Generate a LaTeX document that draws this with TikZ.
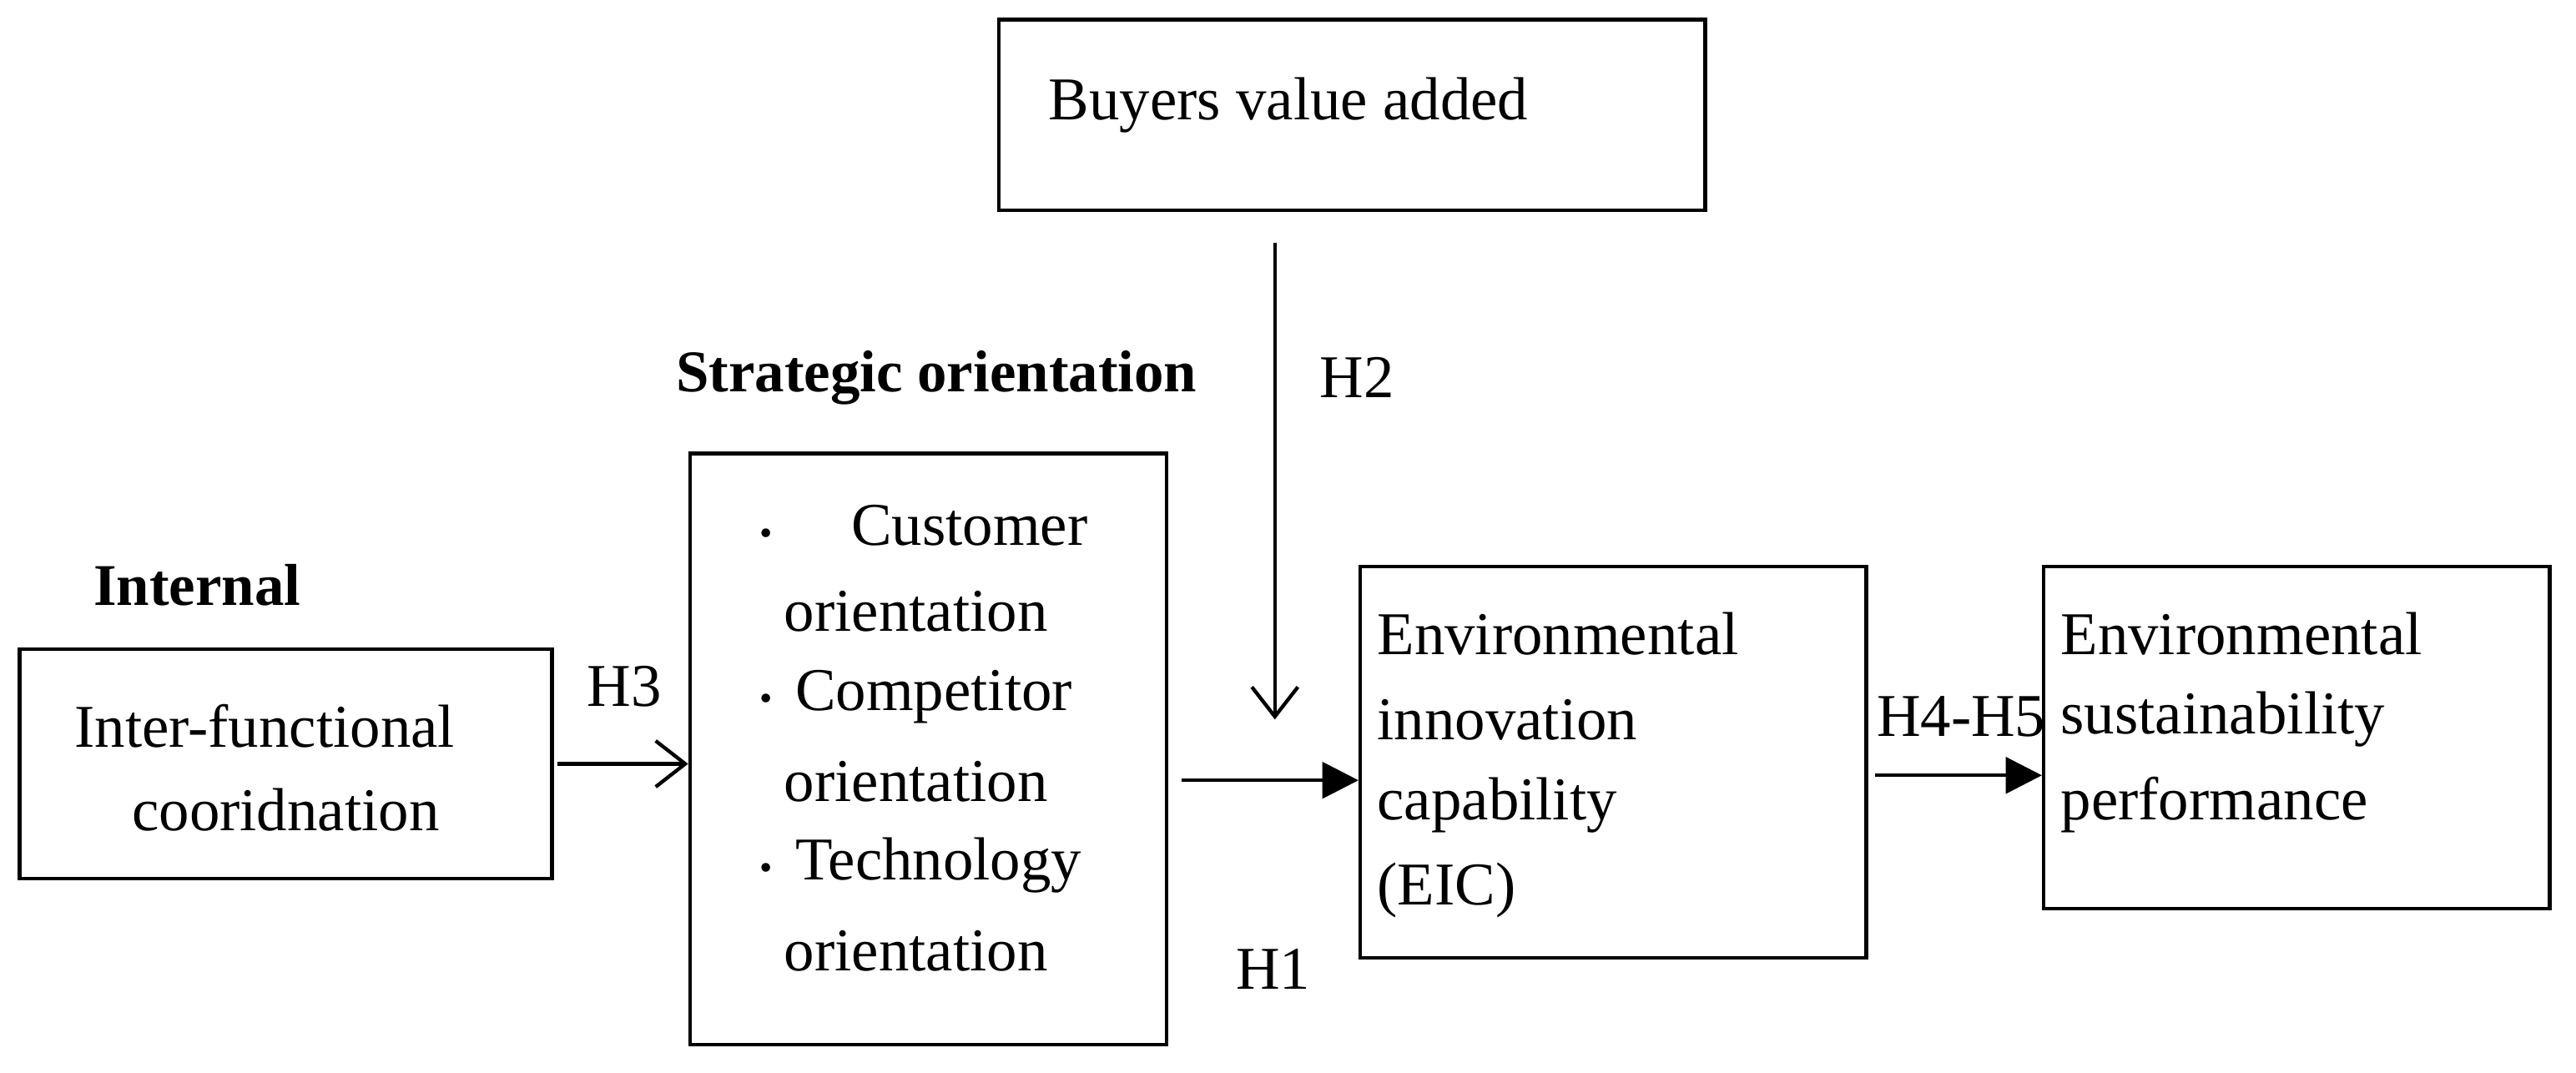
\documentclass[tikz,border=0pt]{standalone}
\usepackage{fontspec}
\setmainfont{Liberation Serif}
\usetikzlibrary{arrows.meta}
\begin{document}
\begin{tikzpicture}[x=0.5pt,y=-0.5pt,
  box/.style={draw,line width=1.1pt,inner sep=0pt},
  txt/.style={font=\fontsize{18.5}{22}\selectfont,inner sep=0pt,anchor=west},
  bold/.style={font=\fontsize{18}{22}\selectfont\bfseries,inner sep=0pt},
  open/.style={line width=1.1pt,-{Straight Barb[length=9pt,width=14pt]}},
  solid/.style={line width=1.1pt,-{Triangle[length=11pt,width=11pt]}}]
\useasboundingbox (0,0) rectangle (1568,653);
\node[box,minimum width=215pt,minimum height=58pt] (bva) at (823,70) {};
\node[txt] at (638,64) {Buyers value added};
\node[box,minimum width=145pt,minimum height=180pt] (so) at (565,456) {};
\node[box,minimum width=162pt,minimum height=70pt] (ifc) at (174,465) {};
\node[box,minimum width=154pt,minimum height=119pt] (eic) at (982,464) {};
\node[box,minimum width=154pt,minimum height=104pt] (esp) at (1398,449) {};
\node[txt] at (45,442) {Inter-functional};
\node[txt] at (80,493) {cooridnation};
\node[txt] at (462,320) {\scalebox{0.6}{\textbullet}\hspace{24pt}Customer};
\node[txt] at (477,372) {orientation};
\node[txt] at (462,424) {\scalebox{0.6}{\textbullet}\hspace{7pt}Competitor};
\node[txt] at (477,476) {orientation};
\node[txt] at (462,527) {\scalebox{0.6}{\textbullet}\hspace{7pt}Technology};
\node[txt] at (477,579) {orientation};
\node[txt] at (838,386) {Environmental};
\node[txt] at (838,438) {innovation};
\node[txt] at (838,490) {capability};
\node[txt] at (838,542) {(EIC)};
\node[txt] at (1254,386) {Environmental};
\node[txt] at (1254,438) {sustainability};
\node[txt] at (1254,490) {performance};
\node[bold] at (570,230) {Strategic orientation};
\node[bold] at (120,356) {Internal};
\node[txt] at (357,418) {H3};
\node[txt] at (803,230) {H2};
\node[txt] at (752,590) {H1};
\node[txt] at (1142,436) {H4-H5};
\coordinate (top) at (776,148);
\coordinate (mid) at (776,438);
\draw[open] (top) -- (mid);
\draw[open] (ifc.east) ++(2,0) -- (so.west |- ifc.east);
\draw[solid] (so.east |- 0,475) ++(8,0) -- (eic.west |- 0,475);
\draw[solid] (eic.east |- 0,472) ++(4,0) -- (esp.west |- 0,472);
\end{tikzpicture}
\end{document}
